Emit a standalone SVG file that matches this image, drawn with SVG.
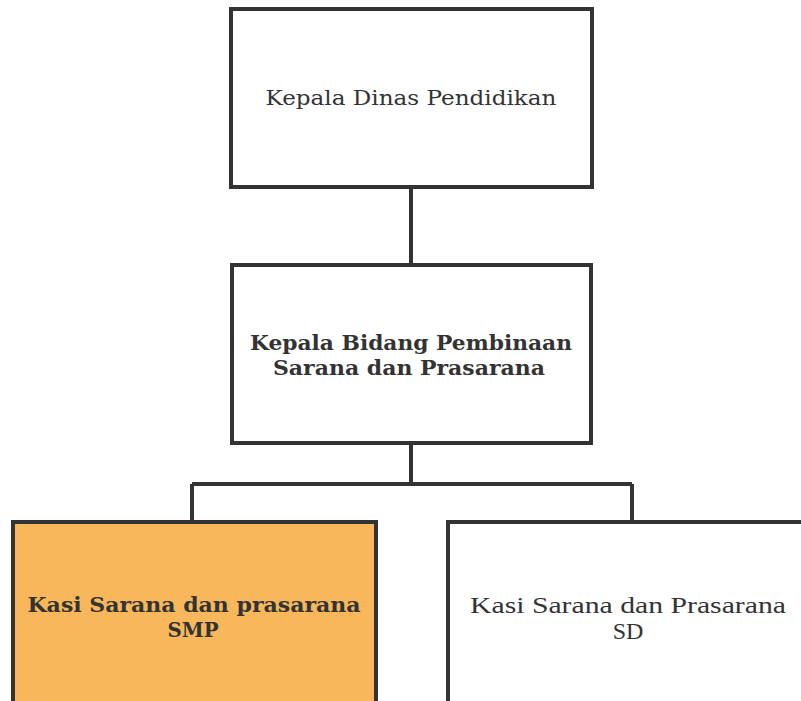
<svg xmlns="http://www.w3.org/2000/svg" width="801" height="701" viewBox="0 0 801 701">
<style>
.box{fill:#fff;stroke:#333;stroke-width:4}
.hl{fill:#F8B75A}
.t{font-family:"DejaVu Serif","Liberation Serif",serif;fill:#333;text-anchor:middle}
.b{font-weight:bold}
.c{fill:none;stroke:#333;stroke-width:4}
</style>
<rect width="801" height="701" fill="#fff"/>
<g id="connectors">
<path class="c" d="M411 187V265M411 443V484M192 484H632M192 484V522M632 484V522"/>
</g>
<g id="kepala-dinas">
<rect class="box" x="231" y="9" width="361" height="178"/>
<text class="t" x="411" y="105" font-size="21" textLength="291" lengthAdjust="spacingAndGlyphs">Kepala Dinas Pendidikan</text>
</g>
<g id="kepala-bidang">
<rect class="box" x="232" y="265" width="359" height="178"/>
<text class="t b" x="411" y="350" font-size="20" textLength="322" lengthAdjust="spacingAndGlyphs">Kepala Bidang Pembinaan</text>
<text class="t b" x="409" y="375" font-size="20" textLength="272" lengthAdjust="spacingAndGlyphs">Sarana dan Prasarana</text>
</g>
<g id="kasi-smp">
<rect class="box hl" x="13" y="522" width="363" height="200"/>
<text class="t b" x="194" y="612" font-size="20" textLength="333" lengthAdjust="spacingAndGlyphs">Kasi Sarana dan prasarana</text>
<text class="t b" x="193" y="637" font-size="20" textLength="51" lengthAdjust="spacingAndGlyphs">SMP</text>
</g>
<g id="kasi-sd">
<rect class="box" x="448" y="522" width="380" height="200"/>
<text x="628" y="613" style="font-family:'Liberation Serif',serif;font-size:24px;fill:#333;text-anchor:middle" textLength="316" lengthAdjust="spacingAndGlyphs">Kasi Sarana dan Prasarana</text>
<text x="628" y="639" style="font-family:'Liberation Serif',serif;font-size:24px;fill:#333;text-anchor:middle">SD</text>
</g>
</svg>
